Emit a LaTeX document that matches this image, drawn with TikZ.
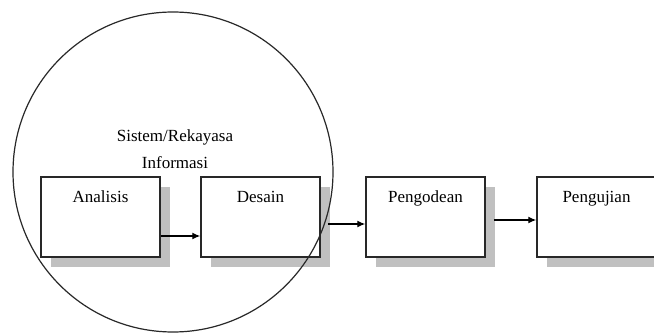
\documentclass[tikz,border=0pt]{standalone}
\usepackage{fontspec}
\setmainfont{Liberation Serif}
\usetikzlibrary{shadows,arrows.meta}
\definecolor{shadowgray}{RGB}{192,192,192}
\definecolor{linegray}{RGB}{40,40,40}
\tikzset{
  stagebox/.style={draw=linegray, line width=1.5pt, fill=white, minimum width=119pt, minimum height=80pt,
    inner sep=0pt, general shadow={fill=shadowgray, shadow xshift=10pt, shadow yshift=-10pt}},
  boxlabel/.style={anchor=base, font=\fontsize{17}{20}\selectfont},
  arr/.style={-{Latex[length=8pt,width=7pt]}, line width=1.3pt, draw=black},
}
\begin{document}
\begin{tikzpicture}[x=1pt,y=-1pt]
\useasboundingbox (0,0) rectangle (654,334);
\node[stagebox] (analisis) at (100.5,217) {};
\node[boxlabel] (lanalisis) at (100.5,203) {Analisis};
\node[stagebox] (desain) at (260.5,217) {};
\node[boxlabel] (ldesain) at (260.5,203) {Desain};
\node[stagebox] (pengodean) at (425.5,217) {};
\node[boxlabel] (lpengodean) at (425.5,203) {Pengodean};
\node[stagebox] (pengujian) at (596.5,217) {};
\node[boxlabel] (lpengujian) at (596.5,203) {Pengujian};
\node[align=center, font=\fontsize{17}{27}\selectfont] (sri) at (175,149) {Sistem/Rekayasa\\Informasi};
\draw[arr] (analisis.east |- 0,236) -- (desain.west |- 0,236);
\draw[arr] ([xshift=7pt]desain.east |- 0,224) -- (pengodean.west |- 0,224);
\draw[arr] ([xshift=8pt]pengodean.east |- 0,220) -- (pengujian.west |- 0,220);
\node[draw=linegray, line width=1.2pt, circle, minimum size=320pt, inner sep=0pt] (scope) at (173,172) {};
\end{tikzpicture}
\end{document}
